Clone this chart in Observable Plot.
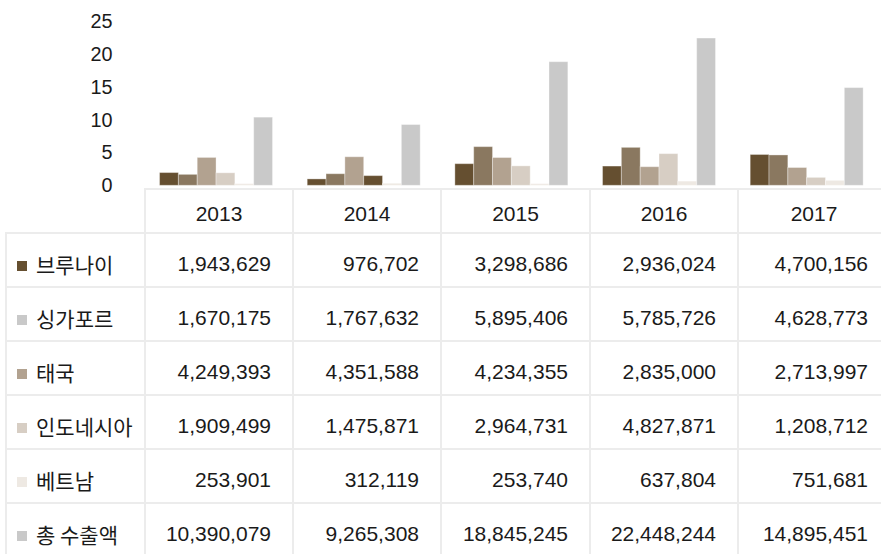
<!DOCTYPE html>
<html>
<head>
<meta charset="utf-8">
<script src="https://cdn.jsdelivr.net/npm/d3@7"></script>
<script src="https://cdn.jsdelivr.net/npm/@observablehq/plot@0.6"></script>
<style>
  html, body { margin: 0; padding: 0; background: #fff; overflow: hidden; width: 881px; height: 554px; }
  #wrap { position: relative; width: 881px; height: 554px; overflow: hidden; font-family: "Liberation Sans", "Noto Sans CJK KR", sans-serif; color: #1a1a1a; }
  #chart { position: absolute; left: 0; top: 0; }
  table { position: absolute; left: 5px; top: 188px; border-collapse: collapse; table-layout: fixed; width: 884px; font-size: 21px; }
  td { border: 2px solid #ececec; padding: 0; white-space: nowrap; box-sizing: border-box; }
  tr.row { height: 54px; }
  tr.head { height: 44px; }
  td.num { text-align: right; padding-right: 21px; padding-top: 8px; }
  td.lab { padding-left: 10px; padding-top: 8px; font-family: "Noto Sans CJK KR", sans-serif; font-size: 21px; }
  td.yr { text-align: center; padding-top: 5px; }
  td.blank { border-top: none; border-left: none; }
  .sw { display: inline-block; width: 10px; height: 10px; margin-right: 9px; vertical-align: 2px; }
</style>
</head>
<body>
<div id="wrap">
  <div id="chart"></div>
</div>
<script>
// ---- data ----
const years = ["2013", "2014", "2015", "2016", "2017"];
const series = ["브루나이", "싱가포르", "태국", "인도네시아", "베트남", "총 수출액"];
const brunei    = [1943629, 976702, 3298686, 2936024, 4700156];
const singapore = [1670175, 1767632, 5895406, 5785726, 4628773];
const thailand  = [4249393, 4351588, 4234355, 2835000, 2713997];
const indonesia = [1909499, 1475871, 2964731, 4827871, 1208712];
const vietnam   = [253901, 312119, 253740, 637804, 751681];
const total     = [10390079, 9265308, 18845245, 22448244, 14895451];
const yTicks    = [0, 5, 10, 15, 20, 25];

// ---- styles ----
const barColors    = ["#654f30", "#8a7860", "#b2a290", "#d7cec4", "#eee9e3", "#c9c9c9"];
const legendColors = ["#654f30", "#c9c9c9", "#b2a290", "#d7cec4", "#eee9e3", "#c9c9c9"];

const values = [brunei, singapore, thailand, indonesia, vietnam, total];
const rows = [];
years.forEach((yr, j) => {
  series.forEach((s, i) => {
    rows.push({year: yr, series: s, si: i, value: values[i][j] / 1e6});
  });
});

// the reference draws the 2014 Indonesia bar in Brunei's colour
const fillOf = d => (d.year === "2014" && d.si === 3) ? barColors[0] : barColors[d.si];

const chart = Plot.plot({
  width: 889,
  height: 189,
  marginLeft: 144,
  marginRight: 0,
  marginTop: 21.5,
  marginBottom: 2,
  style: {fontFamily: "'Liberation Sans', sans-serif", fontSize: "20px", color: "#1a1a1a", background: "transparent"},
  fx: {domain: years, padding: 0, axis: null},
  x: {domain: series, padding: 0, insetLeft: 14, insetRight: 16, axis: null},
  y: {domain: [0, 25], ticks: yTicks, tickSize: 0, tickPadding: 31, label: null, line: false},
  marks: [
    Plot.barY(rows, {fx: "year", x: "series", y: "value", fill: fillOf, stroke: "#ffffff", strokeOpacity: 0.35, strokeWidth: 1})
  ]
});
chart.style.overflow = "visible";
document.getElementById("chart").appendChild(chart);

// ---- data table ----
const fmt = d3.format(",");
const table = document.createElement("table");
const colW = [139, 148, 148, 149, 148, 152];
const cg = document.createElement("colgroup");
colW.forEach(w => { const c = document.createElement("col"); c.style.width = w + "px"; cg.appendChild(c); });
table.appendChild(cg);
const head = document.createElement("tr"); head.className = "head";
const blank = document.createElement("td"); blank.className = "blank"; head.appendChild(blank);
years.forEach(y => { const td = document.createElement("td"); td.className = "yr"; td.textContent = y; head.appendChild(td); });
table.appendChild(head);
series.forEach((s, i) => {
  const tr = document.createElement("tr"); tr.className = "row";
  const lab = document.createElement("td"); lab.className = "lab";
  const sw = document.createElement("span"); sw.className = "sw"; sw.style.background = legendColors[i];
  lab.appendChild(sw); lab.appendChild(document.createTextNode(s));
  tr.appendChild(lab);
  values[i].forEach(v => { const td = document.createElement("td"); td.className = "num"; td.textContent = fmt(v); tr.appendChild(td); });
  table.appendChild(tr);
});
document.getElementById("wrap").appendChild(table);
</script>
</body>
</html>
